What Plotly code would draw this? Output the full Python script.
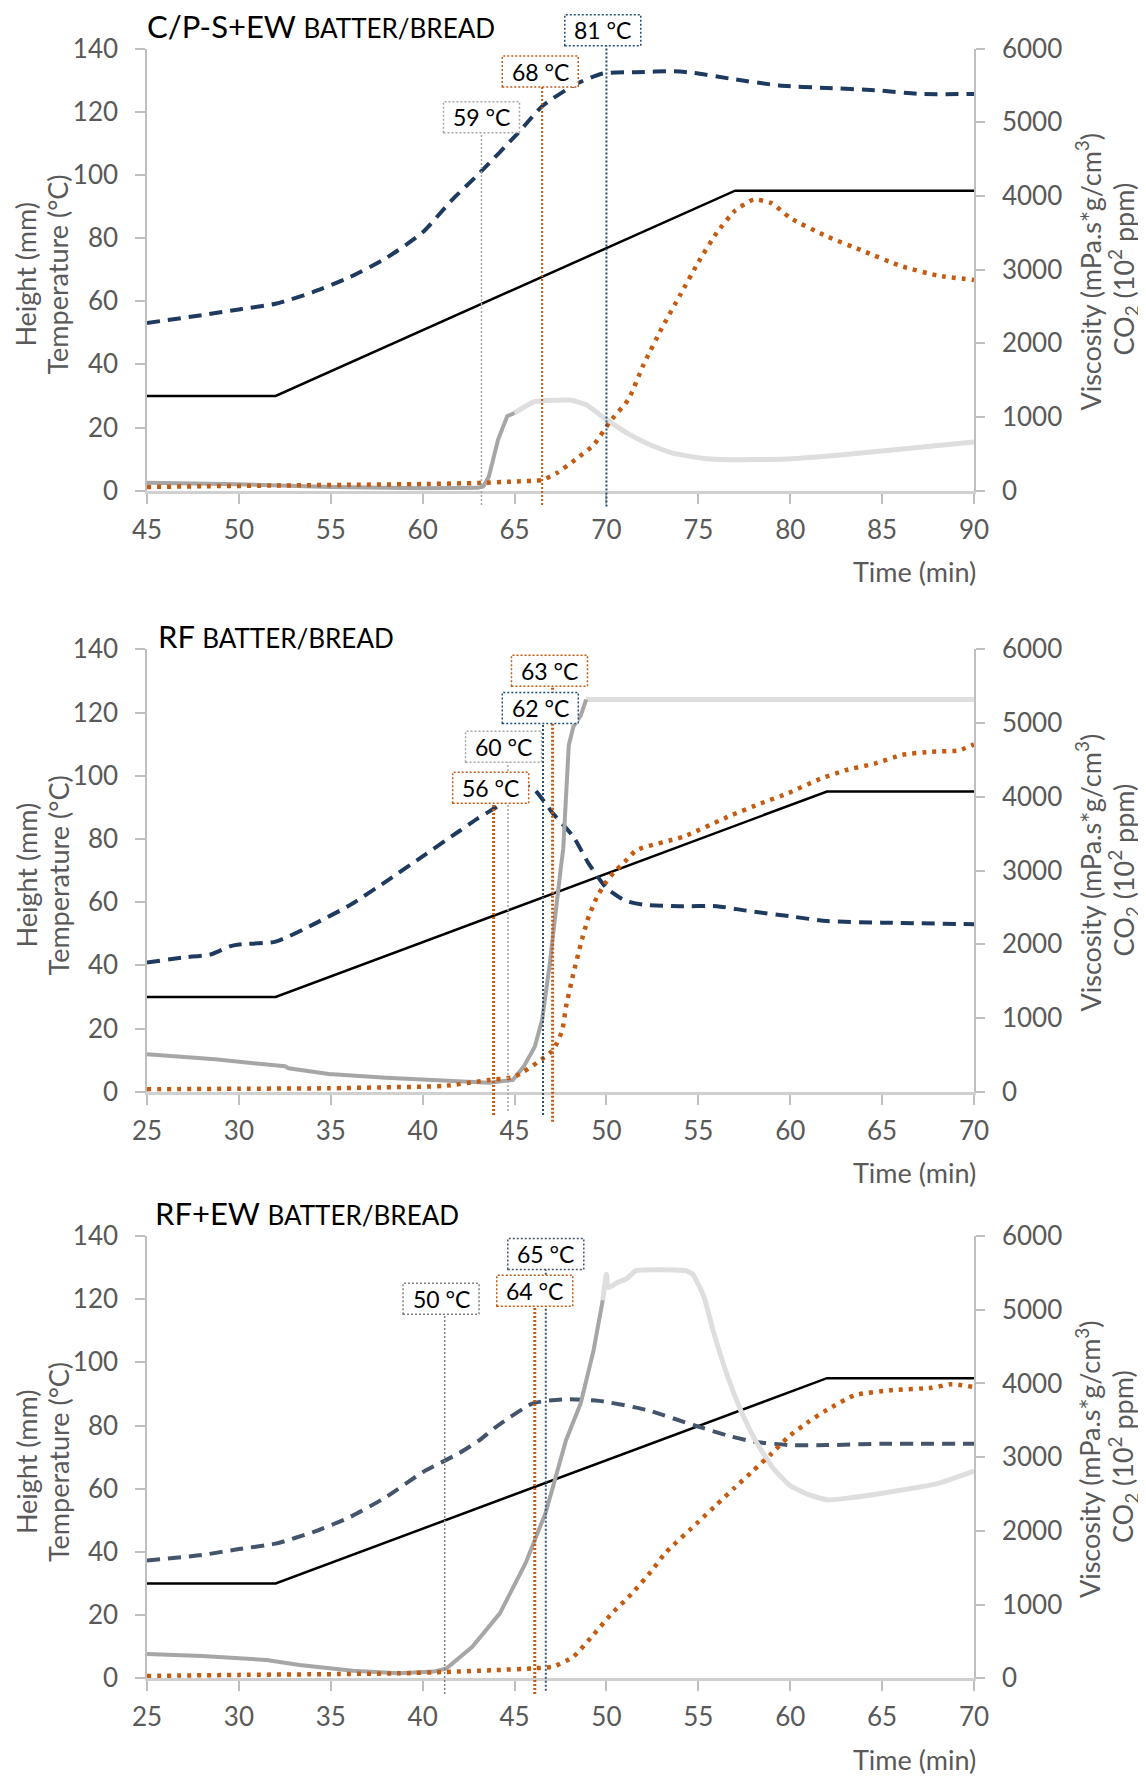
import plotly.graph_objects as go

# ---------------- data ----------------
# Panel 1: C/P-S+EW
p1_temp_t = [45, 52, 77, 90]
p1_temp = [30, 30, 95, 95]
p1_height_t = [45, 48, 50, 52, 54, 56, 58, 60, 61.6, 63.1, 65.2, 66.5, 68.3, 69.8, 71.6, 73.7, 74.7, 76.8, 79.4, 82.0, 84.6, 87.1, 90]
p1_height = [53.1, 55.6, 57.4, 59.2, 62.8, 67.5, 73.6, 81.8, 92.1, 100.6, 113.3, 121.7, 128.6, 132.1, 132.5, 132.8, 132.3, 130.4, 128.3, 127.5, 126.8, 125.6, 125.6]
p1_visc_a_t = [45, 50, 55, 60, 63.0, 63.3, 63.6, 64.1, 64.6, 65.0]
p1_visc_a = [107, 86, 51, 34, 39, 56, 190, 690, 1010, 1055]
p1_visc_b_t = [65.0, 66.1, 68.0, 68.9, 69.9, 71.1, 72.4, 73.6, 75.2, 76.7, 79.9, 83.0, 86.1, 90]
p1_visc_b = [1055, 1210, 1230, 1165, 985, 785, 620, 510, 440, 420, 430, 490, 565, 660]
p1_co2_t = [45, 48, 52, 56, 60, 63, 65, 66.5, 67.3, 68.3, 69.3, 70.2, 71.2, 72.0, 73.0, 74.0, 75.0, 76.0, 77.0, 78.0, 79.0, 80.0, 82.0, 84.0, 86.0, 88.0, 90.0]
p1_co2 = [50, 60, 70, 80, 90, 105, 125, 145, 240, 420, 620, 940, 1240, 1700, 2200, 2650, 3100, 3500, 3800, 3950, 3900, 3700, 3450, 3250, 3050, 2920, 2860]
p1_mark_t = [63.2, 66.5, 70.0]
p1_box_t = [63.2, 66.4, 69.8]
p1_box_y = [118.2, 132.7, 145.8]
p1_mark_lbl = ["59 °C", "68 °C", "81 °C"]

# Panel 2: RF
p2_temp_t = [25, 32, 62, 70]
p2_temp = [30, 30, 95, 95]
p2_height_t = [25, 27, 28.5, 29.5, 30, 32, 34, 36, 38, 40, 42, 43, 44, 44.4, 45.2, 46.0, 47.1, 48.2, 49.0, 50.0, 51.0, 52.0, 54.0, 56.0, 57.6, 60.0, 62.0, 65.0, 70.0]
p2_height = [40.9, 42.5, 43.5, 46.0, 46.6, 47.5, 52.8, 58.9, 66.5, 74.5, 82.5, 86.5, 90.0, 91.5, 97.0, 96.0, 88.0, 80.7, 72.5, 64.5, 60.5, 59.2, 58.7, 58.7, 57.3, 55.5, 54.0, 53.5, 53.0]
p2_visc_a_t = [25, 28.7, 31.8, 32.5, 32.7, 34.9, 38.0, 41.1, 43.6, 44.9, 45.5, 46.1, 46.5, 46.9, 47.2, 47.5, 47.65, 47.8, 47.95, 48.2, 48.6, 48.9]
p2_visc_a = [507, 440, 362, 345, 317, 240, 190, 145, 122, 158, 340, 610, 975, 1700, 2400, 3000, 3300, 3900, 4700, 4950, 5100, 5320]
p2_visc_b_t = [48.9, 70]
p2_visc_b = [5320, 5320]
p2_co2_t = [25, 30, 34.9, 38, 41.1, 43.6, 44.9, 45.5, 46.3, 47.0, 47.3, 47.6, 47.8, 48.2, 48.6, 49.0, 49.5, 50.0, 50.5, 51.0, 51.65, 54.2, 56.8, 58.4, 59.9, 61.5, 63.0, 64.6, 66.1, 67.7, 69.2, 70.0]
p2_co2 = [32, 40, 46, 60, 77, 158, 195, 271, 407, 543, 656, 837, 1153, 1600, 2000, 2350, 2650, 2850, 3000, 3120, 3280, 3460, 3750, 3910, 4050, 4230, 4360, 4450, 4570, 4610, 4630, 4710]
p2_mark_t = [43.86, 44.64, 46.55, 47.07]
p2_box_t = [43.7, 44.4, 46.4, 46.9]
p2_box_y = [96.2, 109.2, 121.4, 133.2]
p2_mark_lbl = ["56 °C", "60 °C", "62 °C", "63 °C"]

# Panel 3: RF+EW
p3_temp_t = [25, 32, 62, 70]
p3_temp = [30, 30, 95, 95]
p3_height_t = [25, 28, 30, 32, 34, 36, 38, 40, 42, 43.1, 44, 46, 47.8, 49.6, 52.2, 54.8, 56.8, 58, 60, 62, 65, 70]
p3_height = [37.3, 39.0, 40.9, 42.6, 46.2, 50.9, 57.3, 65.2, 71.3, 75.4, 79.6, 87.0, 88.3, 87.8, 84.9, 80.0, 76.5, 74.9, 73.8, 73.8, 74.2, 74.2]
p3_visc_a_t = [25, 28, 31.5, 33.3, 36.2, 38.7, 40.6, 41.3, 42.7, 44.2, 45.6, 46.2, 46.7, 47.8, 48.6, 49.3, 49.8]
p3_visc_a = [330, 300, 247, 179, 102, 66, 90, 134, 427, 880, 1560, 1950, 2250, 3230, 3730, 4450, 5130]
p3_visc_b_t = [49.8, 50.0, 50.1, 50.6, 51.1, 51.6, 54.3, 54.7, 55.3, 55.8, 56.6, 57.3, 58.1, 59, 60, 61, 62, 63, 65, 68, 70]
p3_visc_b = [5130, 5480, 5300, 5370, 5420, 5530, 5530, 5480, 5180, 4720, 4090, 3640, 3230, 2870, 2610, 2490, 2420, 2440, 2510, 2640, 2810]
p3_co2_t = [25, 30, 35, 38.7, 41.3, 44, 46.0, 47.1, 48.2, 49.2, 50.3, 51.4, 52.5, 53.2, 55, 56, 57, 58, 59, 59.9, 61, 62.0, 63.5, 65.6, 67.7, 68.8, 70]
p3_co2 = [30, 45, 55, 66, 85, 110, 134, 156, 292, 563, 880, 1152, 1469, 1698, 2120, 2355, 2590, 2820, 3050, 3275, 3480, 3640, 3840, 3910, 3940, 3990, 3950]
p3_mark_t = [41.2, 46.1, 46.7]
p3_box_t = [41.0, 46.1, 46.7]
p3_box_y = [120.1, 122.7, 134.3]
p3_mark_lbl = ["50 °C", "64 °C", "65 °C"]

titles_main = ["C/P-S+EW", "RF", "RF+EW"]
title_sub = "BATTER/BREAD"
x_ticks = [list(range(45, 91, 5)), list(range(25, 71, 5)), list(range(25, 71, 5))]
y_left_ticks = list(range(0, 141, 20))
y_right_ticks = list(range(0, 6001, 1000))

# ---------------- layout geometry (page pixels; page body has an 8px margin) ----------------
OFF = 8
W, H = 1146 - OFF, 1776 - OFF
FONT = "Lato, 'Open Sans', sans-serif"
X_PX = (147, 974)
Y_PX = [(490.7, 48.5), (1091.7, 649.3), (1678.2, 1236.0)]
X_RANGES = [[45, 90], [25, 70], [25, 70]]


def sx(px):
    return (px - OFF) / W


def sy(py):
    return 1 - (py - OFF) / H


X_DOM = [sx(X_PX[0]), sx(X_PX[1])]
Y_DOMS = [[sy(b), sy(t)] for b, t in Y_PX]

ORANGE = "#c55a11"
NAVY = "#1f3a5f"
SLATE = "#44546a"
BLUE_LINE = "#1f4e79"
GRAY_D = "#a6a6a6"
GRAY_L = "#dedede"
AXIS_C = "#bfbfbf"
TXT_C = "#595959"


def paper_x(i, x):
    r = X_RANGES[i]
    return X_DOM[0] + (x - r[0]) / (r[1] - r[0]) * (X_DOM[1] - X_DOM[0])


def paper_y(i, y):
    d = Y_DOMS[i]
    return d[0] + y / 140.0 * (d[1] - d[0])


panels = [
    dict(temp_t=p1_temp_t, temp=p1_temp, h_t=p1_height_t, h=p1_height,
         va_t=p1_visc_a_t, va=p1_visc_a, vb_t=p1_visc_b_t, vb=p1_visc_b,
         c_t=p1_co2_t, c=p1_co2, mk_t=p1_mark_t, bx_t=p1_box_t, bx_y=p1_box_y, lbl=p1_mark_lbl,
         mk_col=[GRAY_D, ORANGE, BLUE_LINE], mk_w=[1.5, 2, 2], mk_bot=[-4.5, -4.5, -5],
         hcol=NAVY, title_px=(145, 26)),
    dict(temp_t=p2_temp_t, temp=p2_temp, h_t=p2_height_t, h=p2_height,
         va_t=p2_visc_a_t, va=p2_visc_a, vb_t=p2_visc_b_t, vb=p2_visc_b,
         c_t=p2_co2_t, c=p2_co2, mk_t=p2_mark_t, bx_t=p2_box_t, bx_y=p2_box_y, lbl=p2_mark_lbl,
         mk_col=[ORANGE, GRAY_D, BLUE_LINE, ORANGE], mk_w=[3, 1.5, 2, 3], mk_bot=[-7.4, -6.1, -7.4, -9.5],
         hcol=NAVY, title_px=(156, 636)),
    dict(temp_t=p3_temp_t, temp=p3_temp, h_t=p3_height_t, h=p3_height,
         va_t=p3_visc_a_t, va=p3_visc_a, vb_t=p3_visc_b_t, vb=p3_visc_b,
         c_t=p3_co2_t, c=p3_co2, mk_t=p3_mark_t, bx_t=p3_box_t, bx_y=p3_box_y, lbl=p3_mark_lbl,
         mk_col=["#7f7f7f", ORANGE, SLATE], mk_w=[1.5, 3, 2], mk_bot=[-5, -5, -4],
         hcol=SLATE, title_px=(153, 1213)),
]

fig = go.Figure()
shapes = []
annotations = []
layout_axes = {}

for i, p in enumerate(panels):
    xa = "x" if i == 0 else f"x{i + 1}"
    yl = "y" if i == 0 else f"y{2 * i + 1}"
    yr = f"y{2 * i + 2}"
    # traces
    fig.add_trace(go.Scatter(x=p["vb_t"], y=p["vb"], xaxis=xa, yaxis=yr, mode="lines",
                             line=dict(color=GRAY_L, width=5, shape="spline", smoothing=0.4), hoverinfo="skip"))
    fig.add_trace(go.Scatter(x=p["va_t"], y=p["va"], xaxis=xa, yaxis=yr, mode="lines",
                             line=dict(color=GRAY_D, width=4), hoverinfo="skip"))
    fig.add_trace(go.Scatter(x=p["temp_t"], y=p["temp"], xaxis=xa, yaxis=yl, mode="lines",
                             line=dict(color="black", width=2.5), hoverinfo="skip"))
    fig.add_trace(go.Scatter(x=p["h_t"], y=p["h"], xaxis=xa, yaxis=yl, mode="lines",
                             line=dict(color=p["hcol"], width=4, dash="13px,8px", shape="spline", smoothing=0.6),
                             hoverinfo="skip"))
    fig.add_trace(go.Scatter(x=p["c_t"], y=p["c"], xaxis=xa, yaxis=yr, mode="lines",
                             line=dict(color=ORANGE, width=4.5, dash="4px,6px", shape="spline", smoothing=0.5),
                             hoverinfo="skip"))

    xkey = "xaxis" if i == 0 else f"xaxis{i + 1}"
    ylkey = "yaxis" if i == 0 else f"yaxis{2 * i + 1}"
    yrkey = f"yaxis{2 * i + 2}"
    tick_font = dict(family=FONT, size=26, color=TXT_C)
    layout_axes[xkey] = dict(domain=X_DOM, range=X_RANGES[i], anchor=yl, automargin=False,
                             tickvals=x_ticks[i], ticks="outside", ticklen=10, tickwidth=1.5,
                             tickcolor=AXIS_C, showline=True, linecolor="#d0d0d0", linewidth=3,
                             showgrid=False, zeroline=False, ticklabelstandoff=4, tickfont=tick_font)
    layout_axes[ylkey] = dict(domain=Y_DOMS[i], range=[0, 140], anchor=xa, automargin=False,
                              tickvals=y_left_ticks, ticks="outside", ticklen=10, tickwidth=1.5,
                              tickcolor=AXIS_C, showline=True, linecolor=AXIS_C, linewidth=1.5,
                              showgrid=False, zeroline=False, ticklabelstandoff=12, tickfont=tick_font)
    layout_axes[yrkey] = dict(domain=Y_DOMS[i], range=[0, 6000], anchor=xa, overlaying=yl, side="right",
                              automargin=False,
                              tickvals=y_right_ticks, ticks="outside", ticklen=9, tickwidth=1.5,
                              tickcolor=AXIS_C, showline=True, linecolor=AXIS_C, linewidth=1.5,
                              showgrid=False, zeroline=False, ticklabelstandoff=12, tickfont=tick_font)

    # vertical marker lines and label boxes
    for k in range(len(p["mk_t"])):
        px_ = paper_x(i, p["mk_t"][k])
        shapes.append(dict(type="line", xref="paper", yref="paper", x0=px_, x1=px_,
                           y0=paper_y(i, p["mk_bot"][k]), y1=paper_y(i, p["bx_y"][k]),
                           line=dict(color=p["mk_col"][k], width=p["mk_w"][k], dash="2px,2px"),
                           layer="above"))
    for k in range(len(p["mk_t"])):
        bx = paper_x(i, p["bx_t"][k])
        by = paper_y(i, p["bx_y"][k])
        shapes.append(dict(type="rect", xref="paper", yref="paper", xsizemode="pixel", ysizemode="pixel",
                           xanchor=bx, yanchor=by, x0=-38, x1=38, y0=-15.5, y1=15.5,
                           fillcolor="white", line=dict(color=p["mk_col"][k], width=1.5, dash="2px,2px"),
                           layer="above"))
        annotations.append(dict(xref="paper", yref="paper", x=bx, y=by, text=p["lbl"][k],
                                showarrow=False, xanchor="center", yanchor="middle",
                                font=dict(family=FONT, size=23, color="black")))

    # panel title
    tx, ty = p["title_px"]
    annotations.append(dict(xref="paper", yref="paper", x=sx(tx), y=sy(ty), xanchor="left", yanchor="middle",
                            text=f"{titles_main[i]} <span style='font-size:26px'>{title_sub}</span>",
                            showarrow=False, font=dict(family=FONT, size=31, color="black")))
    # axis titles
    yb, yt = Y_PX[i]
    cy = (yb + yt) / 2
    title_font = dict(family=FONT, size=27, color=TXT_C)
    annotations.append(dict(xref="paper", yref="paper", x=sx(26), y=sy(cy + 5), text="Height (mm)",
                            textangle=-90, showarrow=False, xanchor="center", yanchor="middle",
                            borderpad=0, font=title_font))
    annotations.append(dict(xref="paper", yref="paper", x=sx(58), y=sy(cy + 5), text="Temperature (°C)",
                            textangle=-90, showarrow=False, xanchor="center", yanchor="middle",
                            borderpad=0, font=title_font))
    annotations.append(dict(xref="paper", yref="paper", x=sx(1088), y=sy(cy + 2),
                            text="Viscosity (mPa.s*g/cm<sup>3</sup>)",
                            textangle=-90, showarrow=False, xanchor="center", yanchor="middle",
                            font=title_font))
    annotations.append(dict(xref="paper", yref="paper", x=sx(1123), y=sy(cy),
                            text="CO<sub>2</sub> (10<sup>2</sup> ppm)",
                            textangle=-90, showarrow=False, xanchor="center", yanchor="middle",
                            font=title_font))
    annotations.append(dict(xref="paper", yref="paper", x=sx(978), y=sy(yb + 81), text="Time (min)",
                            showarrow=False, xanchor="right", yanchor="middle",
                            font=title_font))

fig.update_layout(width=W, height=H, margin=dict(l=0, r=0, t=0, b=0, autoexpand=False),
                  paper_bgcolor="white", plot_bgcolor="white", showlegend=False,
                  shapes=shapes, annotations=annotations, **layout_axes)

fig.write_html("out.html")
